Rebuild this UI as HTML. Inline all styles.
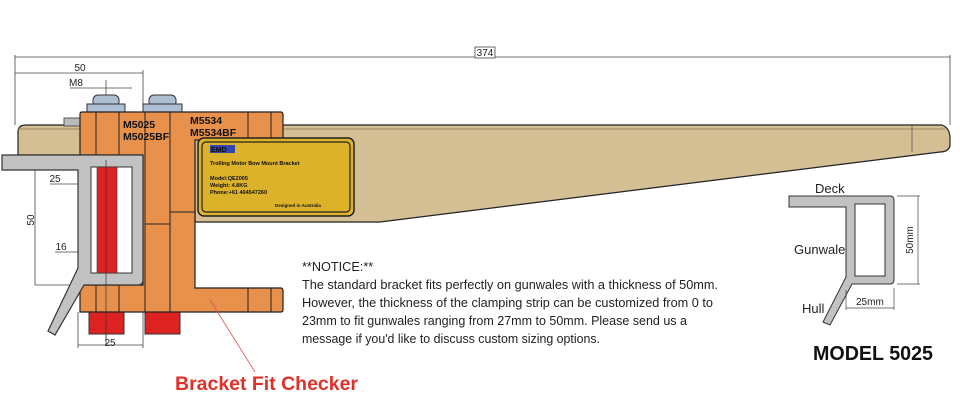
<!DOCTYPE html>
<html><head><meta charset="utf-8"><style>
body{margin:0;background:#fff;}
svg{display:block;font-family:"Liberation Sans",sans-serif;}
</style></head><body>
<svg width="960" height="409" viewBox="0 0 960 409" xmlns="http://www.w3.org/2000/svg">
<!-- arm -->
<path d="M18,132 Q18,125 26,125 L942,125 Q950,128 950,138 L950,146 Q948,152 940,152 L380,222 L195,222 L195,155 L18,155 Z" fill="#d4bf94" stroke="#222" stroke-width="1.2"/>
<line x1="18" y1="129" x2="945" y2="129" stroke="#8a7550" stroke-width="0.8"/>
<line x1="912" y1="125" x2="912" y2="152" stroke="#555" stroke-width="0.8"/>
<rect x="64" y="118" width="16" height="8" fill="#bbb" stroke="#555"/>
<!-- dimensions -->
<g stroke="#444" stroke-width="0.8" fill="none">
<line x1="15" y1="57" x2="950" y2="57"/>
<line x1="15" y1="55" x2="15" y2="125"/>
<line x1="950" y1="55" x2="950" y2="125"/>
<line x1="15" y1="73" x2="143" y2="73"/>
<line x1="143" y1="70" x2="143" y2="112"/>
<line x1="70" y1="88" x2="132" y2="88"/>
<line x1="106" y1="80" x2="106" y2="345"/>
<line x1="35" y1="156" x2="35" y2="285"/>
<line x1="35" y1="285" x2="80" y2="285"/>
<line x1="50" y1="184" x2="143" y2="184"/>
<line x1="55" y1="252" x2="143" y2="252"/>
<line x1="78" y1="345" x2="143" y2="345"/>
<line x1="78" y1="312" x2="78" y2="348"/>
<line x1="143" y1="312" x2="143" y2="348"/>
</g>
<rect x="475" y="47" width="20" height="11" fill="#fff" stroke="#444" stroke-width="0.8"/>
<text x="485" y="56" font-size="10" text-anchor="middle" fill="#222">374</text>
<text x="80" y="71" font-size="10" text-anchor="middle" fill="#222">50</text>
<text x="76" y="86" font-size="10" text-anchor="middle" fill="#222">M8</text>
<text x="55" y="182" font-size="10" text-anchor="middle" fill="#222">25</text>
<text x="61" y="250" font-size="10" text-anchor="middle" fill="#222">16</text>
<text x="110" y="346" font-size="10" text-anchor="middle" fill="#222">25</text>
<text x="34" y="220" font-size="10" text-anchor="middle" fill="#222" transform="rotate(-90 34 220)">50</text>
<!-- top bolts -->
<rect x="93" y="95" width="26" height="12" rx="5" fill="#aebfd4" stroke="#333"/>
<rect x="87" y="104" width="38" height="8" fill="#aebfd4" stroke="#333"/>
<rect x="149" y="95" width="27" height="12" rx="5" fill="#aebfd4" stroke="#333"/>
<rect x="143" y="104" width="39" height="8" fill="#aebfd4" stroke="#333"/>
<!-- bottom bolts -->
<rect x="89" y="312" width="35" height="22" fill="#dd2222" stroke="#333"/>
<rect x="145" y="312" width="35" height="22" fill="#dd2222" stroke="#333"/>
<!-- orange bracket -->
<path d="M80,114 Q80,112 82,112 L281,112 Q283,112 283,115 L283,140 L195,140 L195,288 L281,288 Q283,288 283,291 L283,310 Q283,312 281,312 L80,312 L80,285 L143,285 L143,155 L80,155 Z" fill="#e8914c" stroke="#222" stroke-width="1.2"/>
<g stroke="#222" stroke-width="1">
<line x1="96" y1="112" x2="96" y2="155"/><line x1="96" y1="285" x2="96" y2="312"/>
<line x1="119" y1="112" x2="119" y2="155"/><line x1="119" y1="285" x2="119" y2="312"/>
<line x1="145" y1="112" x2="145" y2="312"/>
<line x1="170" y1="112" x2="170" y2="312"/>
<line x1="145" y1="224" x2="170" y2="224"/>
<line x1="170" y1="212" x2="195" y2="212"/>
<line x1="248" y1="112" x2="248" y2="140"/><line x1="271" y1="112" x2="271" y2="140"/>
<line x1="248" y1="288" x2="248" y2="312"/><line x1="271" y1="288" x2="271" y2="312"/>
</g>
<text x="123" y="128" font-size="10.5" font-weight="bold" fill="#111">M5025</text>
<text x="123" y="140" font-size="10.5" font-weight="bold" fill="#111">M5025BF</text>
<text x="190" y="124" font-size="10.5" font-weight="bold" fill="#111">M5534</text>
<text x="190" y="136" font-size="10.5" font-weight="bold" fill="#111">M5534BF</text>
<!-- gunwale left -->
<path d="M2,155 L143,155 L143,280 Q143,285 138,285 L84,285 L55,335 L48,331 L78,268 L78,170 L2,170 Z" fill="#c2c2c2" stroke="#333" stroke-width="1.2"/>
<rect x="91" y="167" width="41" height="106" fill="#fff" stroke="#333"/>
<rect x="97" y="167" width="20" height="106" fill="#dd2222" stroke="#333" stroke-width="0.6"/>
<line x1="106" y1="160" x2="106" y2="340" stroke="#333" stroke-width="0.7"/>
<!-- plate -->
<rect x="198" y="138" width="156" height="78" rx="6" fill="#dbb22a" stroke="#222" stroke-width="1.5"/>
<rect x="202" y="142" width="148" height="70" rx="4" fill="none" stroke="#222" stroke-width="1.2"/>
<rect x="210" y="145" width="25" height="8" fill="#3344aa"/>
<text x="211" y="152" font-size="7" font-weight="bold" fill="#111">EMD</text>
<text x="210" y="165" font-size="5.5" font-weight="bold" fill="#111">Trolling Motor Bow Mount Bracket</text>
<text x="210" y="180" font-size="5.5" font-weight="bold" fill="#111">Model:QE2005</text>
<text x="210" y="187" font-size="5.5" font-weight="bold" fill="#111">Weight: 4.8KG</text>
<text x="210" y="194" font-size="5.5" font-weight="bold" fill="#111">Phone:+61 404547260</text>
<text x="275" y="207" font-size="4.5" font-weight="bold" fill="#111">Designed in Australia</text>
<!-- notice -->
<g font-size="12.7" fill="#222">
<text x="302" y="271">**NOTICE:**</text>
<text x="302" y="289" textLength="416" lengthAdjust="spacingAndGlyphs">The standard bracket fits perfectly on gunwales with a thickness of 50mm.</text>
<text x="302" y="307" textLength="411" lengthAdjust="spacingAndGlyphs">However, the thickness of the clamping strip can be customized from 0 to</text>
<text x="302" y="325" textLength="385" lengthAdjust="spacingAndGlyphs">23mm to fit gunwales ranging from 27mm to 50mm. Please send us a</text>
<text x="302" y="343" textLength="298" lengthAdjust="spacingAndGlyphs">message if you'd like to discuss custom sizing options.</text>
</g>
<line x1="210" y1="300" x2="255" y2="372" stroke="#e05050" stroke-width="0.8"/>
<text x="175" y="390" font-size="19" font-weight="bold" fill="#e0302a" textLength="183" lengthAdjust="spacingAndGlyphs">Bracket Fit Checker</text>
<!-- right diagram -->
<path d="M789,196 L890,196 Q894,196 894,200 L894,280 Q894,284 890,284 L852,284 L830,325 L823,322 L846,277 L846,207 L789,207 Z" fill="#c2c2c2" stroke="#333" stroke-width="1"/>
<rect x="855" y="204" width="30" height="72" fill="#fff" stroke="#333"/>
<g stroke="#444" stroke-width="0.7">
<line x1="897" y1="196" x2="920" y2="196"/><line x1="897" y1="284" x2="920" y2="284"/>
<line x1="918" y1="196" x2="918" y2="284"/>
<line x1="846" y1="290" x2="846" y2="310"/><line x1="894" y1="288" x2="894" y2="310"/>
<line x1="846" y1="308" x2="894" y2="308"/>
</g>
<text x="815" y="193" font-size="13" fill="#222">Deck</text>
<text x="794" y="254" font-size="13" fill="#222">Gunwale</text>
<text x="802" y="313" font-size="13" fill="#222">Hull</text>
<text x="856" y="305" font-size="10" fill="#222">25mm</text>
<text x="913" y="240" font-size="10" fill="#222" text-anchor="middle" transform="rotate(-90 913 240)">50mm</text>
<text x="813" y="360" font-size="20" font-weight="bold" fill="#111" textLength="120" lengthAdjust="spacingAndGlyphs">MODEL 5025</text>
</svg>
</body></html>
